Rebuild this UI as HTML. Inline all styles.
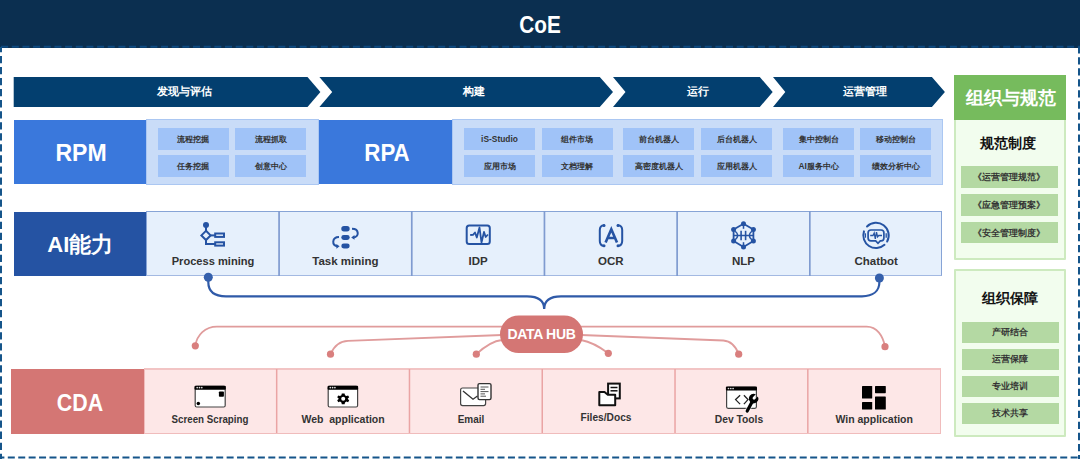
<!DOCTYPE html>
<html><head><meta charset="utf-8">
<style>
html,body{margin:0;padding:0;background:#fff;}
body{width:1080px;height:459px;position:relative;overflow:hidden;font-family:"Liberation Sans",sans-serif;font-weight:bold;color:#333;}
.t{position:absolute;text-align:center;white-space:nowrap;}
.blk{position:absolute;}
.c{position:absolute;text-align:center;white-space:nowrap;}
svg{position:absolute;left:0;top:0;}
</style></head><body>
<div class="blk" style="left:0;top:0;width:1080px;height:47.8px;background:#0b2f50;"></div>
<div class="t" style="left:390.00px;width:300px;top:11px;font-size:23px;line-height:28px;color:#fff;transform:scaleX(0.9);">CoE</div>
<svg width="1080" height="459" viewBox="0 0 1080 459">
  <g stroke="#15558a" stroke-width="2" fill="none">
    <line x1="0" y1="46.8" x2="1080" y2="46.8" stroke="#0e4a80" stroke-dasharray="7 3.66" stroke-dashoffset="-1.14"/>
    <line x1="1" y1="47" x2="1" y2="459" stroke-dasharray="7.3 3.75" stroke-dashoffset="2.15"/>
    <line x1="1079" y1="47.3" x2="1079" y2="459" stroke-dasharray="7.3 3.75" stroke-dashoffset="1.2"/>
    <line x1="0" y1="457.4" x2="1080" y2="457.4" stroke-dasharray="7 3.42" stroke-dashoffset="2.62"/>
  </g>
  <g fill="#033f6f">
    <polygon points="13.7,77 307.5,77 320.4,92 307.5,107 13.7,107"/>
    <polygon points="319.4,77 599.8,77 613,92 599.8,107 319.4,107 332.2,92"/>
    <polygon points="613,77 759.8,77 772.7,92 759.8,107 613,107 625.5,92"/>
    <polygon points="773,77 931.9,77 944.9,92 931.9,107 773,107 785.3,92"/>
  </g>
</svg>
<div class="t" style="left:34.20px;width:300px;top:84px;font-size:11px;line-height:15px;color:#fff;">发现与评估</div>
<div class="t" style="left:324.00px;width:300px;top:84px;font-size:11px;line-height:15px;color:#fff;">构建</div>
<div class="t" style="left:548.40px;width:300px;top:84px;font-size:11px;line-height:15px;color:#fff;">运行</div>
<div class="t" style="left:714.50px;width:300px;top:84px;font-size:11px;line-height:15px;color:#fff;">运营管理</div>
<div class="blk" style="left:13.7px;top:119.6px;width:132.5px;height:64.9px;background:#3a78dc;"></div>
<div class="t" style="left:-69.50px;width:300px;top:138px;font-size:24px;line-height:30px;color:#fff;transform:scaleX(0.96);">RPM</div>
<div class="blk" style="left:146.2px;top:118.6px;width:172.8px;height:66.4px;box-sizing:border-box;background:#c9dcf8;border:1.6px solid #abc7f2;"></div>
<div class="blk" style="left:319px;top:119.6px;width:133px;height:64.9px;background:#3a78dc;"></div>
<div class="t" style="left:236.80px;width:300px;top:138px;font-size:24px;line-height:30px;color:#fff;transform:scaleX(0.93);">RPA</div>
<div class="blk" style="left:452px;top:118.6px;width:490.8px;height:66.4px;box-sizing:border-box;background:#c9dcf8;border:1.6px solid #abc7f2;"></div>
<div class="c" style="left:157.6px;top:127.6px;width:71px;height:22px;line-height:22px;background:#a0c3f8;font-size:8.4px;color:#333;">流程挖掘</div>
<div class="c" style="left:157.6px;top:155.2px;width:71px;height:22px;line-height:22px;background:#a0c3f8;font-size:8.4px;color:#333;">任务挖掘</div>
<div class="c" style="left:235px;top:127.6px;width:71px;height:22px;line-height:22px;background:#a0c3f8;font-size:8.4px;color:#333;">流程抓取</div>
<div class="c" style="left:235px;top:155.2px;width:71px;height:22px;line-height:22px;background:#a0c3f8;font-size:8.4px;color:#333;">创意中心</div>
<div class="c" style="left:464px;top:127.6px;width:71px;height:22px;line-height:22px;background:#a0c3f8;font-size:8.4px;color:#333;">iS-Studio</div>
<div class="c" style="left:464px;top:155.2px;width:71px;height:22px;line-height:22px;background:#a0c3f8;font-size:8.4px;color:#333;">应用市场</div>
<div class="c" style="left:541.6px;top:127.6px;width:71px;height:22px;line-height:22px;background:#a0c3f8;font-size:8.4px;color:#333;">组件市场</div>
<div class="c" style="left:541.6px;top:155.2px;width:71px;height:22px;line-height:22px;background:#a0c3f8;font-size:8.4px;color:#333;">文档理解</div>
<div class="c" style="left:623px;top:127.6px;width:71px;height:22px;line-height:22px;background:#a0c3f8;font-size:8.4px;color:#333;">前台机器人</div>
<div class="c" style="left:623px;top:155.2px;width:71px;height:22px;line-height:22px;background:#a0c3f8;font-size:8.4px;color:#333;">高密度机器人</div>
<div class="c" style="left:701px;top:127.6px;width:71px;height:22px;line-height:22px;background:#a0c3f8;font-size:8.4px;color:#333;">后台机器人</div>
<div class="c" style="left:701px;top:155.2px;width:71px;height:22px;line-height:22px;background:#a0c3f8;font-size:8.4px;color:#333;">应用机器人</div>
<div class="c" style="left:783.2px;top:127.6px;width:71px;height:22px;line-height:22px;background:#a0c3f8;font-size:8.4px;color:#333;">集中控制台</div>
<div class="c" style="left:783.2px;top:155.2px;width:71px;height:22px;line-height:22px;background:#a0c3f8;font-size:8.4px;color:#333;">AI服务中心</div>
<div class="c" style="left:860.4px;top:127.6px;width:71px;height:22px;line-height:22px;background:#a0c3f8;font-size:8.4px;color:#333;">移动控制台</div>
<div class="c" style="left:860.4px;top:155.2px;width:71px;height:22px;line-height:22px;background:#a0c3f8;font-size:8.4px;color:#333;">绩效分析中心</div>
<div class="blk" style="left:13.9px;top:211.5px;width:132.5px;height:64.5px;background:#2553a3;"></div>
<div class="t" style="left:-69.70px;width:300px;top:230px;font-size:22px;line-height:30px;color:#fff;">AI能力</div>
<div class="blk" style="left:146.4px;top:210.9px;width:796.1px;height:65.2px;box-sizing:border-box;background:#e6f0fc;border:1px solid #87a4d6;border-bottom-color:#a3b9e2;"></div>
<svg width="1080" height="459"><g stroke="#7f9bd0" stroke-width="1.7"><line x1="279.08" y1="211" x2="279.08" y2="276" /><line x1="411.77" y1="211" x2="411.77" y2="276" /><line x1="544.45" y1="211" x2="544.45" y2="276" /><line x1="677.13" y1="211" x2="677.13" y2="276" /><line x1="809.82" y1="211" x2="809.82" y2="276" /></g></svg>
<div class="t" style="left:62.74px;width:300px;top:254px;font-size:11.5px;line-height:14px;color:#333;transform:scaleX(0.965);">Process mining</div>
<div class="t" style="left:195.43px;width:300px;top:254px;font-size:11.5px;line-height:14px;color:#333;">Task mining</div>
<div class="t" style="left:328.11px;width:300px;top:254px;font-size:11.5px;line-height:14px;color:#333;">IDP</div>
<div class="t" style="left:460.79px;width:300px;top:254px;font-size:11.5px;line-height:14px;color:#333;">OCR</div>
<div class="t" style="left:593.48px;width:300px;top:254px;font-size:11.5px;line-height:14px;color:#333;">NLP</div>
<div class="t" style="left:726.16px;width:300px;top:254px;font-size:11.5px;line-height:14px;color:#333;">Chatbot</div>
<div class="blk" style="left:11.1px;top:368.8px;width:132.8px;height:64.8px;background:#d47674;"></div>
<div class="t" style="left:-69.70px;width:300px;top:387.5px;font-size:24px;line-height:30px;color:#fff;transform:scaleX(0.89);">CDA</div>
<div class="blk" style="left:143.9px;top:367.7px;width:796.7px;height:65.9px;box-sizing:border-box;background:#fde7e7;border:1px solid #f0bcbc;border-top:2px solid #f2c4c4;"></div>
<svg width="1080" height="459"><g stroke="#eaa4a4" stroke-width="1.5"><line x1="276.68" y1="369" x2="276.68" y2="433" /><line x1="409.47" y1="369" x2="409.47" y2="433" /><line x1="542.25" y1="369" x2="542.25" y2="433" /><line x1="675.03" y1="369" x2="675.03" y2="433" /><line x1="807.82" y1="369" x2="807.82" y2="433" /></g></svg>
<div class="t" style="left:60.29px;width:300px;top:411.5px;font-size:10.5px;line-height:14px;color:#333;transform:scaleX(0.927);">Screen Scraping</div>
<div class="t" style="left:193.07px;width:300px;top:411.5px;font-size:10.5px;line-height:14px;color:#333;">Web&nbsp; application</div>
<div class="t" style="left:321.36px;width:300px;top:411.5px;font-size:10.5px;line-height:14px;color:#333;transform:scaleX(0.95);">Email</div>
<div class="t" style="left:455.94px;width:300px;top:410.3px;font-size:10.5px;line-height:14px;color:#333;transform:scaleX(0.97);">Files/Docs</div>
<div class="t" style="left:588.82px;width:300px;top:411.8px;font-size:10.5px;line-height:14px;color:#333;transform:scaleX(0.98);">Dev Tools</div>
<div class="t" style="left:724.21px;width:300px;top:411.5px;font-size:10.5px;line-height:14px;color:#333;">Win application</div>
<div class="blk" style="left:954.3px;top:75.3px;width:112px;height:184.6px;box-sizing:border-box;background:#f2fdee;border:2px solid #cdeabf;border-radius:1px;"></div>
<div class="blk" style="left:954.3px;top:75.3px;width:112px;height:44.3px;background:#76bb5d;"></div>
<div class="t" style="left:860.50px;width:300px;top:86.5px;font-size:18px;line-height:22px;color:#fff;">组织与规范</div>
<div class="t" style="left:858.00px;width:300px;top:134px;font-size:14px;line-height:18px;color:#111;">规范制度</div>
<div class="c" style="left:960.5px;top:166.2px;width:97px;height:21.5px;line-height:23px;background:#b4d9a3;font-size:8.5px;color:#333;">《运营管理规范》</div>
<div class="c" style="left:960.5px;top:194.1px;width:97px;height:21.5px;line-height:23px;background:#b4d9a3;font-size:8.5px;color:#333;">《应急管理预案》</div>
<div class="c" style="left:960.5px;top:221.7px;width:97px;height:21.5px;line-height:23px;background:#b4d9a3;font-size:8.5px;color:#333;">《安全管理制度》</div>
<div class="blk" style="left:954.3px;top:269.3px;width:112px;height:167.9px;box-sizing:border-box;background:#f2fdee;border:2px solid #cdeabf;border-radius:1px;"></div>
<div class="t" style="left:859.50px;width:300px;top:289px;font-size:14px;line-height:18px;color:#111;">组织保障</div>
<div class="c" style="left:962px;top:322px;width:96.5px;height:21px;line-height:21px;background:#b4d9a3;font-size:8.5px;color:#333;">产研结合</div>
<div class="c" style="left:962px;top:349.3px;width:96.5px;height:21px;line-height:21px;background:#b4d9a3;font-size:8.5px;color:#333;">运营保障</div>
<div class="c" style="left:962px;top:376.2px;width:96.5px;height:21px;line-height:21px;background:#b4d9a3;font-size:8.5px;color:#333;">专业培训</div>
<div class="c" style="left:962px;top:402.8px;width:96.5px;height:21px;line-height:21px;background:#b4d9a3;font-size:8.5px;color:#333;">技术共享</div>
<svg width="1080" height="459" viewBox="0 0 1080 459">
  <!-- blue brace -->
  <path d="M208.3,278 V282 C208.3,291 214,296.3 226,296.3 H527 C537,296.3 544.2,300 544.2,309 C544.2,300 551,296.3 561,296.3 H862 C873,296.3 879.4,291 879.4,282 V278" fill="none" stroke="#2f5aa8" stroke-width="2.2"/>
  <circle cx="208.3" cy="277.2" r="4.5" fill="#3560ac"/>
  <circle cx="879.4" cy="278" r="4.5" fill="#3560ac"/>
  <!-- red lines -->
  <g fill="none" stroke="#e09c9c" stroke-width="1.8">
    <path d="M195.3,345.8 C197,335 205,326.7 217,326.7 H866.7 C877,326.7 883,336 885,346.7"/>
    <path d="M330.5,354.2 C334,346 340,341 348,340.8 L502,335"/>
    <path d="M581,335 L723.3,340.5 C731,341 736,347 738.7,354.2"/>
    <path d="M476.3,354.2 C483,348 492,341 502,340"/>
    <path d="M581,340 C592,342 600,347 608.3,353.3"/>
  </g>
  <g fill="#d97f7e">
    <circle cx="195.3" cy="345.8" r="3.6"/>
    <circle cx="330.5" cy="354.2" r="3.6"/>
    <circle cx="476.3" cy="354.2" r="3.6"/>
    <circle cx="608.3" cy="353.3" r="3.6"/>
    <circle cx="738.7" cy="354.2" r="3.6"/>
    <circle cx="885" cy="346.7" r="3.6"/>
  </g>
  <rect x="500" y="315.4" width="83" height="37.7" rx="18.85" fill="#d47674"/>

  <!-- AI icons -->
  <g fill="none" stroke="#2553a3" stroke-width="2">
    <!-- process mining -->
    <line x1="206" y1="226" x2="206" y2="231"/>
    <polygon points="206,230.8 210.6,235.4 206,240 201.4,235.4"/>
    <line x1="210.6" y1="235.4" x2="215" y2="235.4"/>
    <rect x="215.2" y="233.5" width="8.8" height="3.4"/>
    <polyline points="206,240 206,244 215,244"/>
    <rect x="215.2" y="242.3" width="8.8" height="3.3"/>
    <!-- task mining arcs -->
    <path d="M352,228.7 C359.5,228.7 359.5,237.5 353,237.5"/>
    <path d="M339,237 C331.6,237 331.6,246.2 337.5,246.2"/>
    <!-- IDP -->
    <rect x="466.7" y="225.5" width="23.1" height="18.6" rx="2.5"/>
    <polyline points="470.2,235 473,234.8 475,232.5 476.8,237.5 479.5,227.5 481.5,242.5 484,232 485.7,237 488,234.5" stroke-width="1.8" stroke-linejoin="round"/>
    <!-- OCR -->
    <path d="M604,225.2 Q599.8,225.6 599.8,230 V241 Q599.8,245.5 604,246" stroke-linecap="round"/>
    <path d="M618,225.2 Q622.2,225.6 622.2,230 V241 Q622.2,245.5 618,246" stroke-linecap="round"/>
    <path d="M605.6,242.6 L611.3,229.2 L617,242.6 M607.7,238 H614.9" stroke-width="2.6"/>
    <!-- NLP -->
    <polygon points="743.5,223.8 753.4,229.5 753.4,240.9 743.5,247 733.6,240.9 733.6,229.5" stroke-width="1.8"/>
    <g stroke-width="1.5">
      <line x1="743.5" y1="225" x2="743.5" y2="228.8"/>
      <line x1="743.5" y1="242.2" x2="743.5" y2="246"/>
      <line x1="734" y1="235.5" x2="753" y2="235.5"/>
      <line x1="741.1" y1="230.8" x2="741.1" y2="240.2" stroke-width="1.6"/>
      <line x1="745.6" y1="230.8" x2="745.6" y2="240.2" stroke-width="1.6"/>
      <path d="M735.2,231.3 Q740.2,235.5 735.2,239.7"/>
      <path d="M751.8,231.3 Q746.8,235.5 751.8,239.7"/>
    </g>
    <!-- Chatbot -->
    <path d="M867.02,226.42 A12.7,12.7 0 0 1 887.13,241.52" stroke-width="2" stroke-linecap="round"/>
    <path d="M884.5,244.84 A12.7,12.7 0 0 1 863.97,231.33" stroke-width="2" stroke-linecap="round"/>
    <line x1="865.4" y1="233.3" x2="865.4" y2="237.7" stroke-width="1.3"/>
    <line x1="886.2" y1="233.3" x2="886.2" y2="237.7" stroke-width="1.3"/>
    <path d="M870.9,230 H881.1 Q883.9,230 883.9,232.8 V238.1 Q883.9,240.9 881.1,240.9 H880.3 L878,243.3 L875.7,240.9 H870.9 Q868.1,240.9 868.1,238.1 V232.8 Q868.1,230 870.9,230 Z" stroke-width="1.7"/>
    <polyline points="870.2,235.5 873,235.5 874.2,233 875.3,238.8 876.5,232.2 877.6,236.8 878.7,235.5 882,235.5" stroke-width="1.3"/>
  </g>
  <g fill="#2553a3">
    <circle cx="206" cy="224.9" r="3"/>
    <circle cx="604" cy="225.4" r="1.5"/><circle cx="604" cy="245.8" r="1.5"/><circle cx="618" cy="225.4" r="1.5"/><circle cx="618" cy="245.8" r="1.5"/>
    <rect x="341.3" y="226" width="8.4" height="5.4" rx="2.7"/>
    <rect x="341.3" y="235" width="8.4" height="4.9" rx="2.45"/>
    <rect x="341.3" y="243.6" width="8.4" height="4.9" rx="2.45"/>
    <polygon points="351.2,237.4 354.5,235 354.5,239.8"/>
    <polygon points="339.6,246.3 336.4,243.9 336.4,248.7"/>
    <circle cx="743.5" cy="223.8" r="2.5"/><circle cx="753.4" cy="229.5" r="2.5"/><circle cx="753.4" cy="240.9" r="2.5"/>
    <circle cx="743.5" cy="247" r="2.5"/><circle cx="733.6" cy="240.9" r="2.5"/><circle cx="733.6" cy="229.5" r="2.5"/>
  </g>

  <!-- CDA icons -->
  <g stroke="#444" stroke-width="1.2" fill="#fff">
    <rect x="195.2" y="386.4" width="30" height="20.6" rx="1.5"/>
    <rect x="328.2" y="386.4" width="29.4" height="20.6" rx="1.5"/>
    <rect x="460.6" y="388" width="25" height="17.6" rx="2"/>
    <rect x="726.6" y="387.3" width="29.8" height="21" rx="1.5"/>
  </g>
  <g fill="#000">
    <rect x="194.5" y="385.7" width="31.3" height="4" rx="1"/>
    <rect x="218.9" y="391.4" width="5" height="5.3" rx="0.8"/>
    <circle cx="198.3" cy="403.4" r="1.75"/>
    <rect x="327.6" y="385.7" width="30.5" height="4" rx="1"/>
    <rect x="725.9" y="386.6" width="31.1" height="4" rx="1"/>
    <rect x="862" y="386" width="10.2" height="12.6" rx="0.6"/>
    <rect x="875" y="386" width="10.8" height="7.2" rx="0.6"/>
    <rect x="862" y="401.9" width="10.2" height="7.6" rx="0.6"/>
    <rect x="875" y="396.4" width="10.8" height="13.1" rx="0.6"/>
  </g>
  <g fill="#ddd">
    <circle cx="197.2" cy="387.6" r="0.85"/><circle cx="199.5" cy="387.6" r="0.85"/><circle cx="201.8" cy="387.6" r="0.85"/>
    <circle cx="330.3" cy="387.6" r="0.85"/><circle cx="332.6" cy="387.6" r="0.85"/><circle cx="334.9" cy="387.6" r="0.85"/>
    <circle cx="728.5" cy="388.5" r="0.85"/><circle cx="730.8" cy="388.5" r="0.85"/><circle cx="733.1" cy="388.5" r="0.85"/>
  </g>
  <!-- gear -->
  <g transform="translate(343.2 398.8)">
    <path d="M-1.4,-5.4 H1.4 L1.8,-3.6 L3.2,-2.8 L4.9,-3.4 L6,-1.5 L4.6,-0.3 V0.3 L6,1.5 L4.9,3.4 L3.2,2.8 L1.8,3.6 L1.4,5.4 H-1.4 L-1.8,3.6 L-3.2,2.8 L-4.9,3.4 L-6,1.5 L-4.6,0.3 V-0.3 L-6,-1.5 L-4.9,-3.4 L-3.2,-2.8 L-1.8,-3.6 Z" fill="#000"/>
    <circle r="2" fill="#fff"/>
  </g>
  <!-- email -->
  <path d="M463,391 L473,399.2 L477.5,396" fill="none" stroke="#333" stroke-width="1.4"/>
  <rect x="478" y="383.6" width="13" height="16" rx="1.5" fill="#fff" stroke="#333" stroke-width="1.4"/>
  <g stroke="#555" stroke-width="1">
    <line x1="480.5" y1="387" x2="488.5" y2="387"/>
    <line x1="480.5" y1="389.3" x2="485" y2="389.3"/>
    <line x1="480.5" y1="391.6" x2="488.5" y2="391.6"/>
    <line x1="480.5" y1="393.9" x2="485" y2="393.9"/>
    <line x1="480.5" y1="396.2" x2="486" y2="396.2"/>
  </g>
  <!-- files -->
  <rect x="608.1" y="383.6" width="11.7" height="14.8" fill="#fff" stroke="#111" stroke-width="2"/>
  <line x1="610.5" y1="387.5" x2="617.5" y2="387.5" stroke="#111" stroke-width="1.5"/>
  <line x1="610.5" y1="390.8" x2="617.5" y2="390.8" stroke="#111" stroke-width="1.5"/>
  <path d="M599.3,392 H604.5 L607.8,394.8 H615.2 V405.2 H599.3 Z" fill="#fff" stroke="#111" stroke-width="2" stroke-linejoin="round"/>
  <!-- dev tools -->
  <path d="M740.1,395.2 L735.6,399.6 L740.1,404.1 M743.9,395.2 L748,399.6 L743.9,404.1" fill="none" stroke="#222" stroke-width="1.3"/>
  <path d="M747.2,411 L751.6,402.8" stroke="#fff" stroke-width="5" stroke-linecap="round" opacity="0.6"/>
  <path d="M747.2,411 L751.6,402.8" stroke="#000" stroke-width="3.2" stroke-linecap="round"/>
  <path d="M757.9,396.4 A4.8,4.8 0 1 1 755.8,394.3 L752.9,397.2 A1.5,1.5 0 0 0 755.0,399.3 Z" fill="#000"/>
</svg>
<div class="t" style="left:391.50px;width:300px;top:326px;font-size:14px;line-height:16px;color:#fff;letter-spacing:-0.3px;">DATA HUB</div>
</body></html>
